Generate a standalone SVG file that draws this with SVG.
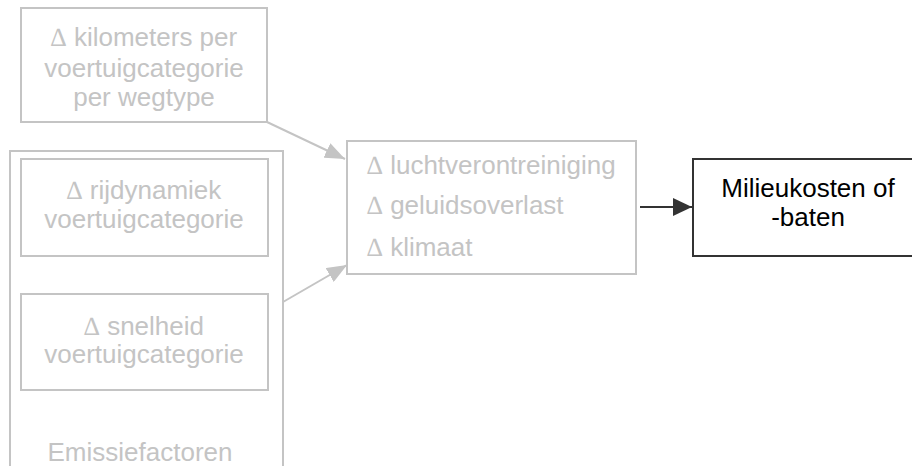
<svg xmlns="http://www.w3.org/2000/svg" width="912" height="466" viewBox="0 0 912 466">
  <style>
    .box { fill: #ffffff; stroke: #c4c4c4; stroke-width: 2; }
    .dark { fill: #ffffff; stroke: #333333; stroke-width: 2; }
    .t { font-family: "Liberation Sans", Arial, sans-serif; font-size: 26px; fill: #c4c4c4; }
    .d { font-family: "Liberation Serif", "Times New Roman", serif; }
    .tc { text-anchor: middle; }
    .k { fill: #000000; }
    .link { stroke: #c4c4c4; stroke-width: 2; fill: none; }
    .link-dark { stroke: #333333; stroke-width: 2; fill: none; }
  </style>
  <defs>
    <marker id="arrow-grey" viewBox="0 0 20 16" refX="20" refY="8" markerWidth="20" markerHeight="16" markerUnits="userSpaceOnUse" orient="auto">
      <path d="M0,0 L20,8 L0,16 Z" fill="#c4c4c4"/>
    </marker>
    <marker id="arrow-dark" viewBox="0 0 19 18" refX="19" refY="9" markerWidth="19" markerHeight="18" markerUnits="userSpaceOnUse" orient="auto">
      <path d="M0,0 L19,9 L0,18 Z" fill="#333333"/>
    </marker>
  </defs>

  <rect width="912" height="466" fill="#ffffff"/>

  <g id="connectors">
    <line class="link" x1="267" y1="122" x2="345" y2="159" marker-end="url(#arrow-grey)"/>
    <line class="link" x1="283" y1="302" x2="347" y2="265" marker-end="url(#arrow-grey)"/>
    <line class="link-dark" x1="640" y1="207" x2="692" y2="207" marker-end="url(#arrow-dark)"/>
  </g>

  <g id="kilometers">
    <rect class="box" x="21" y="8" width="246" height="114"/>
    <text class="t tc" x="144" y="46"><tspan class="d">∆</tspan> kilometers per</text>
    <text class="t tc" x="144" y="77">voertuigcategorie</text>
    <text class="t tc" x="144" y="106">per wegtype</text>
  </g>

  <g id="emissiefactoren">
    <rect class="box" x="10" y="151" width="273" height="340"/>
    <text class="t tc" x="140" y="461">Emissiefactoren</text>
  </g>

  <g id="rijdynamiek">
    <rect class="box" x="21" y="159" width="247" height="97"/>
    <text class="t tc" x="144" y="199"><tspan class="d">∆</tspan> rijdynamiek</text>
    <text class="t tc" x="144" y="228">voertuigcategorie</text>
  </g>

  <g id="snelheid">
    <rect class="box" x="21" y="294" width="247" height="96"/>
    <text class="t tc" x="144" y="335"><tspan class="d">∆</tspan> snelheid</text>
    <text class="t tc" x="144" y="363">voertuigcategorie</text>
  </g>

  <g id="effecten">
    <rect class="box" x="347" y="141" width="289" height="133"/>
    <text class="t" x="367" y="174"><tspan class="d">∆</tspan> luchtverontreiniging</text>
    <text class="t" x="367" y="214"><tspan class="d">∆</tspan> geluidsoverlast</text>
    <text class="t" x="367" y="256"><tspan class="d">∆</tspan> klimaat</text>
  </g>

  <g id="milieukosten">
    <rect class="dark" x="693" y="159" width="230" height="97"/>
    <text class="t tc k" x="808" y="197">Milieukosten of</text>
    <text class="t tc k" x="808" y="226">-baten</text>
  </g>
</svg>
